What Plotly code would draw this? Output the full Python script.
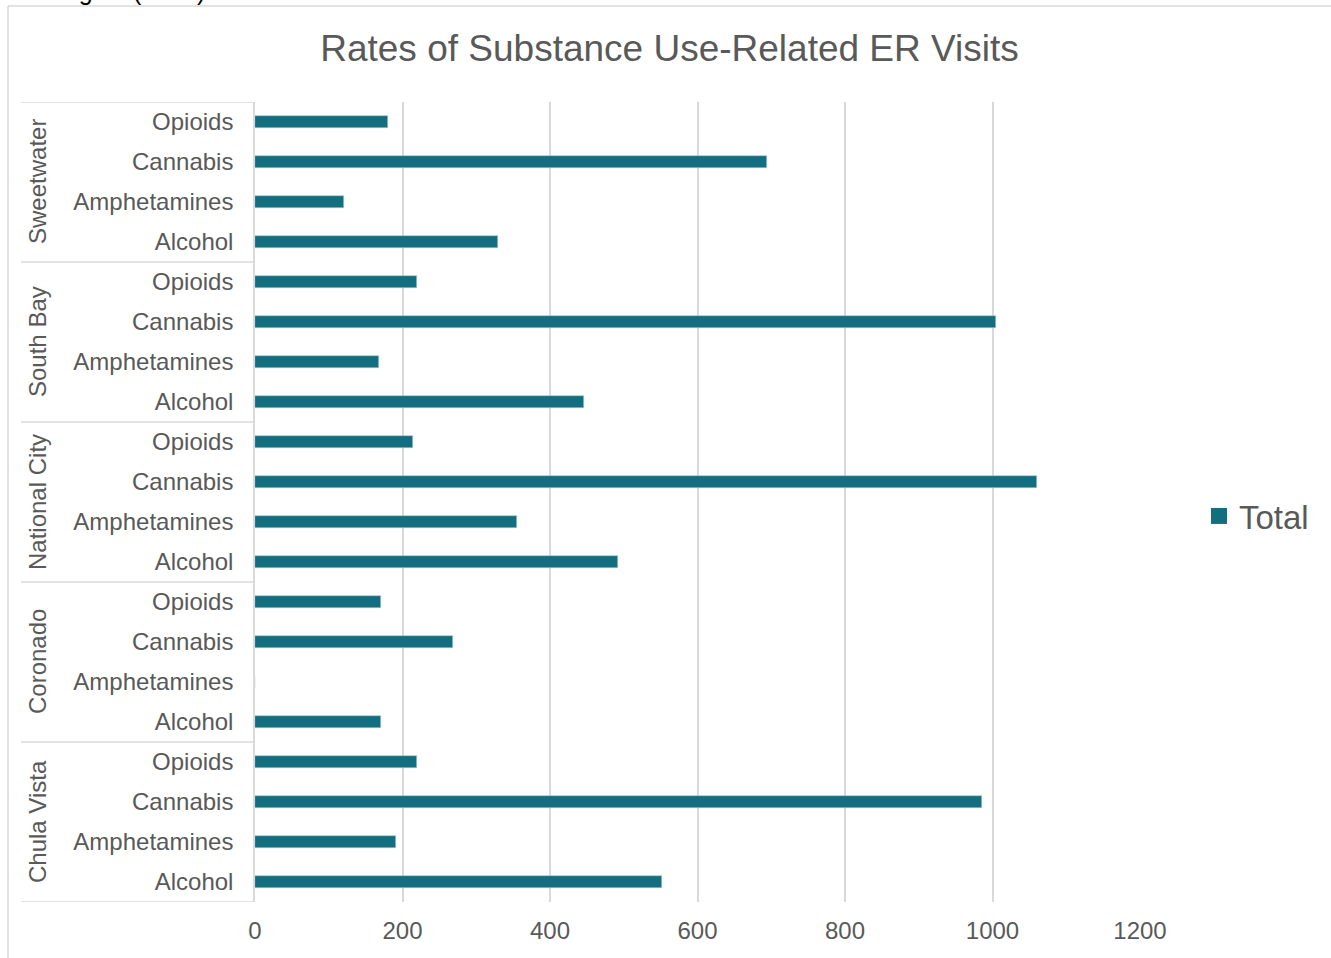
import plotly.graph_objects as go

# ---- data ----
regions = ["Chula Vista", "Coronado", "National City", "South Bay", "Sweetwater"]
substances = ["Alcohol", "Amphetamines", "Cannabis", "Opioids"]
chula_vista = [552, 191, 986, 220]
coronado = [171, 0, 268, 171]
national_city = [492, 355, 1060, 214]
south_bay = [446, 168, 1005, 220]
sweetwater = [329, 121, 694, 180]
region_values = [chula_vista, coronado, national_city, south_bay, sweetwater]
x_ticks = [0, 200, 400, 600, 800, 1000, 1200]

# ---- layout geometry (pixels) ----
W, H = 1331, 958
L, R, T, B = 255, 1140, 102, 902
PW, PH = R - L, B - T

def px(x):
    return (x - L) / PW

def py(y):
    return (B - y) / PH

GRAY = "#595959"
LINE = "#d9d9d9"
BAR = "#136f7f"
FONT = "Liberation Sans, Arial, sans-serif"

ypos, xval, ylab = [], [], []
for g, vals in enumerate(region_values):
    for j, sub in enumerate(substances):
        ypos.append(g * 4 + j)
        xval.append(vals[j])
        ylab.append(sub)

fig = go.Figure()
fig.add_trace(go.Bar(x=xval, y=ypos, orientation="h", width=0.32,
                     marker=dict(color=BAR, line=dict(color="#a8cbd1", width=0.6)),
                     name="Total", showlegend=False, hoverinfo="x"))
# legend entry with larger square marker
fig.add_trace(go.Scatter(x=[None], y=[None], mode="markers", name="Total",
                         marker=dict(symbol="square", size=17, color=BAR),
                         showlegend=True))

shapes = []
n = len(regions)
for k in range(n + 1):
    yb = k * 4 - 0.5
    shapes.append(dict(type="line", xref="paper", yref="y", x0=px(21), x1=0,
                       y0=yb, y1=yb, line=dict(color=LINE, width=1.5)))
# outer chart border
shapes.append(dict(type="line", xref="paper", yref="paper", x0=px(8), x1=px(8),
                   y0=py(6), y1=py(H + 20), line=dict(color=LINE, width=1.5)))
shapes.append(dict(type="line", xref="paper", yref="paper", x0=px(8), x1=px(W + 20),
                   y0=py(6), y1=py(6), line=dict(color=LINE, width=1.5)))

annotations = []
for g, reg in enumerate(regions):
    annotations.append(dict(text=reg, x=px(37), xref="paper", y=g * 4 + 1.5, yref="y",
                            textangle=-90, showarrow=False, xanchor="center",
                            yanchor="middle", font=dict(size=24, color=GRAY, family=FONT)))
annotations.append(dict(text="sub-region (2017).", x=px(6), xref="paper", y=py(7),
                        yref="paper", xanchor="left", yanchor="bottom", showarrow=False,
                        font=dict(size=25, color="#000000", family=FONT)))

fig.update_layout(
    width=W, height=H,
    margin=dict(l=L, r=W - R, t=T, b=H - B),
    paper_bgcolor="white", plot_bgcolor="white",
    font=dict(family=FONT, color=GRAY, size=24),
    title=dict(text="Rates of Substance Use-Related ER Visits",
               x=669.5 / W, xanchor="center",
               y=1 - 48 / H, yanchor="middle", yref="container",
               font=dict(size=37, color=GRAY, family=FONT)),
    xaxis=dict(range=[0, 1200], tickvals=x_ticks, ticktext=[str(v) for v in x_ticks],
               showgrid=True, gridcolor=LINE, gridwidth=1.5, zeroline=False,
               showline=False, ticks="", ticklabelstandoff=12,
               tickfont=dict(size=24, color=GRAY)),
    yaxis=dict(range=[-0.5, 4 * n - 0.5], tickvals=ypos, ticktext=ylab,
               showgrid=False, zeroline=False, showline=True, linecolor=LINE, linewidth=1.5,
               ticks="", ticklabelstandoff=15, tickfont=dict(size=24, color=GRAY)),
    legend=dict(x=px(1199), y=py(516), xanchor="left", yanchor="middle",
                font=dict(size=33, color=GRAY), bgcolor="rgba(0,0,0,0)",
                itemwidth=30, tracegroupgap=0),
    shapes=shapes, annotations=annotations, bargap=0,
)

fig.write_html("out.html", config={"displayModeBar": False},
               post_script="document.body.style.margin='0';document.body.style.overflow='hidden';")
